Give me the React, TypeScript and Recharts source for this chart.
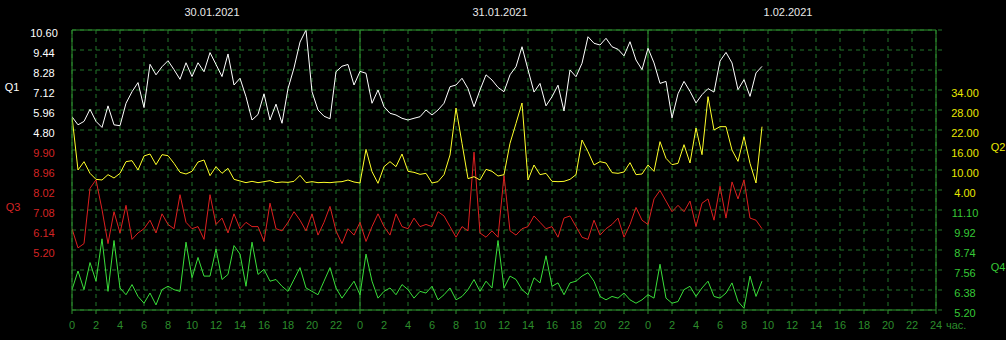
import React from 'react';
import { ComposedChart, Line, XAxis, YAxis, CartesianGrid, ReferenceLine } from 'recharts';

// ---- data (half-hour samples starting 30.01.2021 00:00) ----
const STEP_HOURS = 0.5;
const DATES = ['30.01.2021', '31.01.2021', '1.02.2021'];
const DATE_TICKS = [12, 36, 60];
const HOUR_TICKS = [0, 2, 4, 6, 8, 10, 12, 14, 16, 18, 20, 22, 24, 26, 28, 30, 32, 34, 36, 38, 40, 42, 44, 46, 48, 50, 52, 54, 56, 58, 60, 62, 64, 66, 68, 70, 72];

const Q1 = [
  5.57, 5.1, 5.3, 6.0, 5.3, 4.95, 6.2, 5.1, 5.05, 6.35,
  7.02, 7.55, 6.1, 8.61, 8.0, 8.47, 8.82, 8.3, 7.74, 8.7,
  7.9, 8.7, 8.18, 9.29, 8.6, 7.9, 9.21, 7.41, 7.8, 6.73,
  5.38, 5.7, 6.9, 5.38, 6.3, 5.19, 7.2, 8.4, 9.9, 10.6,
  7.02, 5.96, 5.6, 5.45, 8.18, 8.5, 8.6, 7.41,
  8.2, 8.09, 6.35, 7.12, 6.15, 5.77, 5.67, 5.48, 5.38, 5.48,
  5.57, 5.96, 5.67, 5.96, 6.35, 7.31, 7.41, 7.8, 7.2, 6.15,
  7.12, 8.0, 7.7, 7.27, 7.02, 8.0, 8.47, 9.63, 8.3, 7.0,
  7.5, 6.2, 6.73, 7.4, 5.9, 8.28, 7.89, 8.67,
  10.21, 9.83, 9.73, 10.12, 9.63, 9.48, 9.1, 9.92, 8.86, 8.3,
  9.54, 8.69, 7.5, 7.62, 5.5, 6.9, 7.62, 7.04, 6.37, 6.85,
  7.2, 7.0, 8.8, 9.3, 8.69, 7.14, 7.72, 6.75, 8.11, 8.49,
];

const Q2 = [
  26, 10, 12.5, 9.0, 7.2, 7.0, 8.6, 7.6, 9.0, 12.5,
  12.8, 10, 14.2, 14.8, 11.6, 14.6, 14.3, 12.0, 9.3, 8.8,
  9.6, 12.4, 13.0, 8.3, 11.0, 9.0, 10.5, 7.2, 6.7, 6.2,
  6.6, 6.2, 6.5, 6.8, 6.2, 6.4, 6.3, 6.6, 8.4, 6.2,
  6.5, 6.2, 6.3, 6.2, 6.4, 6.5, 7.0, 6.4,
  6.1, 16.2, 9.5, 6.0, 11, 12.5, 11.0, 14.8, 9.6, 9.3,
  8.7, 9.0, 6.1, 6.5, 8.6, 14.5, 28.6, 18, 7.4, 8.0,
  7.0, 10.2, 9.6, 8.2, 8.6, 18, 24, 30.1, 7, 11.5,
  8.6, 9.0, 6.6, 6.5, 6.6, 7.2, 8.6, 19,
  15.5, 11.5, 12.5, 12.1, 9.2, 9.0, 9.4, 12.2, 8.6, 8.8,
  11.5, 9.6, 18.5, 13.5, 11.6, 12.0, 17.6, 12.1, 22.6, 14.6,
  32, 22, 23, 23, 16, 12.6, 20, 12, 6.1, 23,
];

const Q3 = [
  6.2, 5.3, 5.5, 8.1, 8.5, 7.1, 5.5, 7.0, 6.0, 7.3,
  5.7, 6.0, 6.2, 6.6, 6.0, 6.9, 6.4, 6.2, 7.8, 6.5,
  6.2, 6.3, 5.7, 7.8, 6.4, 6.7, 6.0, 6.9, 6.2, 6.5,
  6.3, 6.3, 5.6, 7.4, 6.2, 6.1, 6.5, 7.0, 6.6, 6.1,
  6.9, 5.9, 6.5, 7.25, 6.1, 5.5, 6.2, 5.9,
  6.5, 5.6, 6.3, 6.9, 6.3, 5.9, 6.9, 6.3, 6.2, 6.7,
  6.3, 6.4, 6.3, 7.0, 6.8, 6.3, 5.8, 6.3, 6.1, 9.8,
  6.0, 5.8, 6.1, 5.8, 8.7, 6.1, 5.9, 6.2, 6.3, 6.8,
  6.5, 6.2, 6.3, 5.8, 6.7, 6.8, 6.3, 5.8,
  5.7, 6.6, 5.9, 6.2, 6.4, 6.7, 5.8, 6.4, 7.2, 6.6,
  6.4, 7.6, 8.0, 7.5, 7.0, 7.3, 7.0, 7.5, 6.3, 7.4,
  7.6, 6.6, 8.2, 6.7, 8.4, 7.6, 8.5, 6.7, 6.6, 6.2,
];

const Q4 = [
  6.4, 7.5, 6.4, 8.0, 6.9, 9.4, 6.3, 9.3, 6.5, 6.1,
  6.7, 6.0, 5.6, 6.2, 5.5, 6.4, 6.6, 6.4, 6.3, 9.2,
  7.1, 8.3, 7.2, 7.2, 8.8, 7.0, 7.3, 9.0, 8.5, 6.6,
  9.2, 7.3, 7.6, 6.9, 7.0, 6.6, 6.3, 7.0, 7.7, 6.5,
  6.3, 6.1, 6.9, 7.7, 6.5, 5.9, 6.4, 6.9,
  6.1, 8.5, 6.9, 5.9, 6.3, 6.5, 6.1, 6.7, 6.4, 5.9,
  6.3, 6.2, 6.6, 5.8, 6.1, 6.5, 5.8, 6.0, 6.4, 7.0,
  6.3, 6.9, 6.5, 9.3, 6.5, 7.2, 7.0, 6.4, 6.1, 7.1,
  6.8, 8.4, 6.6, 6.8, 6.1, 6.8, 6.9, 7.2,
  7.4, 6.9, 6.0, 5.8, 6.0, 5.9, 6.2, 5.8, 5.6, 5.8,
  6.1, 5.9, 7.9, 5.9, 5.6, 5.7, 6.4, 6.6, 6.0, 6.5,
  6.9, 6.0, 5.9, 6.2, 6.8, 5.7, 5.3, 7.2, 6.0, 6.9,
];

const Q1_LABELS = [10.6, 9.44, 8.28, 7.12, 5.96, 4.8];
const Q2_LABELS = [34, 28, 22, 16, 10, 4];
const Q3_LABELS = [9.9, 8.96, 8.02, 7.08, 6.14, 5.2];
const Q4_LABELS = [11.1, 9.92, 8.74, 7.56, 6.38, 5.2];

const Q1_DOMAIN: [number, number] = [-5.64, 10.6];
const Q2_DOMAIN: [number, number] = [-32, 52];
const Q3_DOMAIN: [number, number] = [2.38, 15.54];
const Q4_DOMAIN: [number, number] = [5.2, 21.72];
const GRID_STEPS = 14;

// ---- styles ----
const FONT = 'Liberation Sans, Arial, sans-serif';
const FRAME = '#2f912f';
const GRID = '#22762a';
const AXIS_TEXT = '#2c8c2c';
const C_WHITE = '#ffffff';
const C_YELLOW = '#ffff2a';
const C_RED = '#dd2020';
const C_GREEN = '#3ade3a';
const L_YELLOW = '#e8e800';
const L_RED = '#d42424';
const L_GREEN = '#36c836';

const data = Q1.map((v, i) => ({ t: i * STEP_HOURS, q1: v, q2: Q2[i], q3: Q3[i], q4: Q4[i] }));

const gridTicks = (d: [number, number]) =>
  Array.from({ length: GRID_STEPS + 1 }, (_, k) => Math.round((d[0] + (k * (d[1] - d[0])) / GRID_STEPS) * 1e6) / 1e6);

const makeYTick = (labels: number[], color: string, cx: number) => (props: any) => {
  const { y, payload } = props;
  const v = payload.value;
  const hit = labels.find((l) => Math.abs(l - v) < 1e-4);
  if (hit === undefined) return <g />;
  return (
    <text x={cx} y={y + 3} dy="0.355em" textAnchor="middle" fill={color} fontSize={11} fontFamily={FONT}>
      {hit.toFixed(2)}
    </text>
  );
};

const BottomTick = (props: any) => {
  const { x, payload } = props;
  const v = payload.value;
  return (
    <text x={x} y={325} dy="0.355em" textAnchor="middle" fill={AXIS_TEXT} fontSize={11} fontFamily={FONT}>
      {v === 72 ? '24' : String(v % 24)}
    </text>
  );
};

const TopTick = (props: any) => {
  const { x, payload } = props;
  const idx = DATE_TICKS.indexOf(payload.value);
  return (
    <text x={x - 4} y={12} dy="0.355em" textAnchor="middle" fill="#e8e8e8" fontSize={11} fontFamily={FONT}>
      {DATES[idx] ?? ''}
    </text>
  );
};

export default function App() {
  return (
    <div style={{ position: 'absolute', left: 0, top: 0, width: 1006, height: 340, background: '#000', overflow: 'hidden' }}>
      <ComposedChart width={1006} height={340} data={data} margin={{ top: 0, right: 0, bottom: 0, left: 0 }}>
        <CartesianGrid xAxisId="b" yAxisId="q1" stroke={GRID} strokeDasharray="4 4" />
        <XAxis
          xAxisId="b"
          dataKey="t"
          type="number"
          domain={[0, 72]}
          ticks={HOUR_TICKS}
          interval={0}
          height={30}
          allowDataOverflow
          axisLine={{ stroke: FRAME }}
          tickLine={{ stroke: FRAME }}
          tickSize={4}
          tick={BottomTick}
        />
        <XAxis
          xAxisId="top"
          orientation="top"
          dataKey="t"
          type="number"
          domain={[0, 72]}
          ticks={DATE_TICKS}
          interval={0}
          height={30}
          allowDataOverflow
          axisLine={{ stroke: FRAME }}
          tickLine={false}
          tick={TopTick}
        />
        <YAxis
          yAxisId="q1"
          type="number"
          domain={Q1_DOMAIN}
          ticks={gridTicks(Q1_DOMAIN)}
          interval={0}
          width={71}
          allowDataOverflow
          axisLine={{ stroke: FRAME }}
          tickLine={false}
          tick={makeYTick(Q1_LABELS, C_WHITE, 44)}
        />
        <YAxis
          yAxisId="q3"
          type="number"
          domain={Q3_DOMAIN}
          ticks={gridTicks(Q3_DOMAIN)}
          interval={0}
          width={1}
          allowDataOverflow
          axisLine={false}
          tickLine={false}
          tick={makeYTick(Q3_LABELS, L_RED, 44)}
        />
        <YAxis
          yAxisId="q2"
          orientation="right"
          type="number"
          domain={Q2_DOMAIN}
          ticks={gridTicks(Q2_DOMAIN)}
          interval={0}
          width={69}
          allowDataOverflow
          axisLine={{ stroke: FRAME }}
          tickLine={{ stroke: GRID, strokeDasharray: '4 4' }}
          tickSize={6}
          tick={makeYTick(Q2_LABELS, L_YELLOW, 965)}
        />
        <YAxis
          yAxisId="q4"
          orientation="right"
          type="number"
          domain={Q4_DOMAIN}
          ticks={gridTicks(Q4_DOMAIN)}
          interval={0}
          width={1}
          allowDataOverflow
          axisLine={false}
          tickLine={false}
          tick={makeYTick(Q4_LABELS, L_GREEN, 965)}
        />
        <ReferenceLine xAxisId="b" yAxisId="q1" x={24} stroke={FRAME} />
        <ReferenceLine xAxisId="b" yAxisId="q1" x={48} stroke={FRAME} />
        <Line xAxisId="b" yAxisId="q4" dataKey="q4" type="linear" stroke={C_GREEN} strokeWidth={1} dot={false} isAnimationActive={false} />
        <Line xAxisId="b" yAxisId="q3" dataKey="q3" type="linear" stroke={C_RED} strokeWidth={1} dot={false} isAnimationActive={false} />
        <Line xAxisId="b" yAxisId="q2" dataKey="q2" type="linear" stroke={C_YELLOW} strokeWidth={1} dot={false} isAnimationActive={false} />
        <Line xAxisId="b" yAxisId="q1" dataKey="q1" type="linear" stroke={C_WHITE} strokeWidth={1} dot={false} isAnimationActive={false} />
      </ComposedChart>
      <svg width={1006} height={340} style={{ position: 'absolute', left: 0, top: 0, pointerEvents: 'none' }}>
        <g fontFamily={FONT} fontSize={11}>
          <text x={12} y={87} dy="0.355em" textAnchor="middle" fill={C_WHITE}>Q1</text>
          <text x={13} y={207} dy="0.355em" textAnchor="middle" fill={L_RED}>Q3</text>
          <text x={998} y={147} dy="0.355em" textAnchor="middle" fill={L_YELLOW}>Q2</text>
          <text x={998} y={267} dy="0.355em" textAnchor="middle" fill={L_GREEN}>Q4</text>
          <text x={946} y={325} dy="0.355em" textAnchor="start" fill={AXIS_TEXT}>час.</text>
        </g>
      </svg>
    </div>
  );
}
